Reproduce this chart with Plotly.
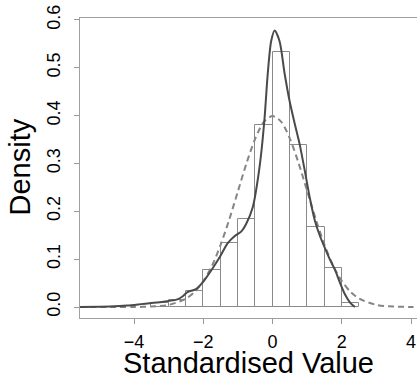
import plotly.graph_objects as go

# Histogram (density scale), bins of width 0.5
bin_starts = [-3.5, -3.0, -2.5, -2.0, -1.5, -1.0, -0.5, 0.0, 0.5, 1.0, 1.5, 2.0]
bin_density = [0.009, 0.015, 0.034, 0.078, 0.134, 0.183, 0.380, 0.532, 0.338, 0.167, 0.081, 0.009]
bin_width = 0.5

# Kernel density estimate (solid line)
kde_x = [-5.56, -5.0, -4.7, -4.2, -3.8, -3.55, -3.15, -2.75, -2.6, -2.46, -2.3, -2.2, -2.0,
         -1.73, -1.52, -1.3, -1.1, -0.9, -0.76, -0.57, -0.43, -0.33, -0.23, -0.14, -0.04,
         0.06, 0.2, 0.35, 0.49, 0.64, 0.78, 0.93, 1.07, 1.22, 1.36, 1.5, 1.65, 1.8, 1.95,
         2.1, 2.25, 2.38]
kde_y = [0.0, 0.0005, 0.001, 0.003, 0.006, 0.008, 0.011, 0.016, 0.022, 0.031, 0.035, 0.038, 0.053,
         0.081, 0.105, 0.133, 0.148, 0.158, 0.174, 0.209, 0.265, 0.320, 0.396, 0.487, 0.556,
         0.578, 0.556, 0.487, 0.431, 0.383, 0.341, 0.285, 0.230, 0.181, 0.150, 0.125, 0.100, 0.078, 0.050,
         0.025, 0.008, 0.0]

# Reference normal density (dashed line)
norm_x = [-5.56, -4.5, -4.0, -3.5, -3.0, -2.5, -2.25, -2.0, -1.75, -1.5, -1.25, -1.0, -0.75, -0.5,
          -0.25, 0.0, 0.25, 0.5, 0.75, 1.0, 1.25, 1.5, 1.75, 2.0, 2.25, 2.5, 3.0, 3.5, 4.0, 4.17]
norm_y = [0.0, 0.0, 0.0001, 0.0009, 0.0044, 0.0175, 0.0317, 0.054, 0.086, 0.130, 0.183, 0.242, 0.301, 0.352,
          0.387, 0.399, 0.387, 0.352, 0.301, 0.242, 0.183, 0.130, 0.086, 0.054, 0.0317, 0.0175, 0.0044, 0.0009, 0.0001, 0.0]

x_ticks = [-4, -2, 0, 2, 4]
y_ticks = [0.0, 0.1, 0.2, 0.3, 0.4, 0.5, 0.6]
y_ticktext = ["0.0", "0.1", "0.2", "0.3", "0.4", "0.5", "0.6"]
x_title = "Standardised Value"
y_title = "Density"

fig = go.Figure()
fig.add_trace(go.Bar(
    x=bin_starts, y=bin_density, width=bin_width, offset=0,
    marker=dict(color="rgba(255,255,255,0)", line=dict(color="#8a8a8a", width=1)),
    showlegend=False, hoverinfo="skip"))
fig.add_trace(go.Scatter(
    x=norm_x, y=norm_y, mode="lines", line=dict(color="#858585", width=2, dash="6px,4px", shape="spline", smoothing=0.8),
    showlegend=False))
fig.add_trace(go.Scatter(
    x=kde_x, y=kde_y, mode="lines", line=dict(color="#4a4a4a", width=2, shape="spline", smoothing=0.8),
    showlegend=False))

font_family = "Liberation Sans, Arial, sans-serif"
fig.update_layout(
    template="none",
    width=417, height=378,
    margin=dict(l=80, r=0, t=18, b=60, autoexpand=False),
    paper_bgcolor="white", plot_bgcolor="white",
    font=dict(family=font_family, color="black"),
    bargap=0,
    xaxis=dict(range=[-5.56, 4.17], tickvals=x_ticks, ticks="outside", ticklen=5, tickcolor="#999999",
               showline=True, linecolor="#a0a0a0", linewidth=1, mirror=True, automargin=False,
               showgrid=False, zeroline=False, tickfont=dict(size=18, family=font_family),
               ticklabelstandoff=2, ticklabeloverflow="allow"),
    yaxis=dict(range=[-0.023, 0.604], tickvals=y_ticks, ticktext=y_ticktext, tickangle=-90,
               ticks="outside", ticklen=5, tickcolor="#999999", ticklabelstandoff=7, automargin=False,
               showline=True, linecolor="#a0a0a0", linewidth=1, mirror=False,
               showgrid=False, zeroline=False, tickfont=dict(size=18, family=font_family)),
    annotations=[
        dict(text=x_title, xref="paper", yref="paper", x=0.5, y=-0.15,
             xanchor="center", yanchor="middle", showarrow=False,
             font=dict(size=29, family=font_family, color="black")),
        dict(text=y_title, xref="paper", yref="paper", x=-0.177, y=0.503,
             xanchor="center", yanchor="middle", showarrow=False, textangle=-90,
             font=dict(size=29, family=font_family, color="black")),
    ],
)

fig.write_html("out.html", config={"displayModeBar": False},
               post_script="document.body.style.margin='0';document.body.style.overflow='hidden';")
